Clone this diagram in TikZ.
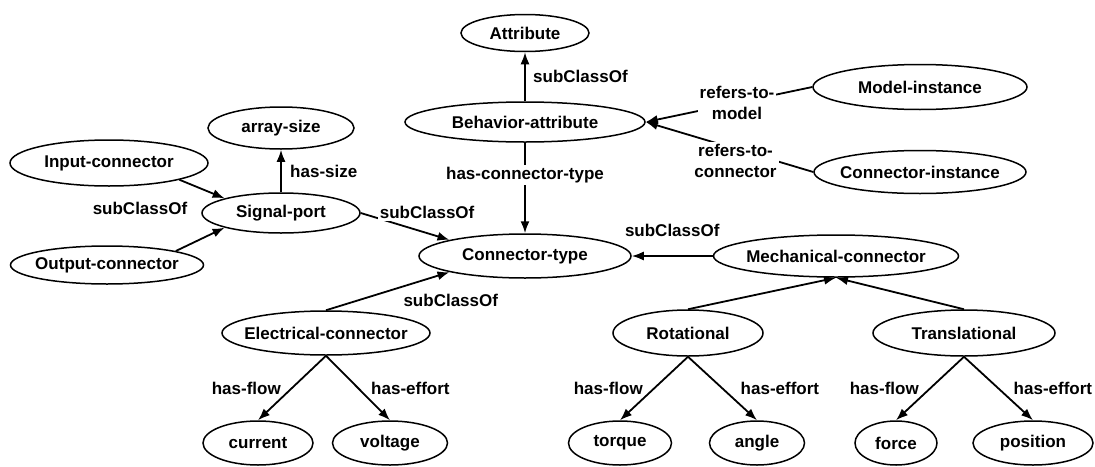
\documentclass[tikz,border=0pt]{standalone}
\usepackage{fontspec}
\setmainfont{Liberation Sans}
\usetikzlibrary{shapes.geometric, positioning, arrows.meta}

\begin{document}
\begin{tikzpicture}[x = 1pt, y = -1pt, on grid,
    >={Latex[length=12pt, width=9pt]},
    font = \fontsize{17pt}{21pt}\selectfont\bfseries,
    cnode/.style = {ellipse, draw, line width=1.5pt, minimum width=#1,
      minimum height=44pt, inner xsep=-10pt, inner ysep=0pt},
    lbl/.style = {fill=white, inner sep=2pt, align=center}]
  \useasboundingbox (0,0) rectangle (1095,466);
  \node[cnode=240pt, minimum height=40pt] (ba) at (525,122) {Behavior-attribute};
  \node[cnode=128pt, minimum height=37pt] [above=89pt of ba] (attr) {Attribute};
  \node[cnode=212pt] [below=134pt of ba] (ct) {Connector-type};
  \node[cnode=245pt, minimum height=42pt] [right=311pt of ct] (mech) {Mechanical-connector};
  \node[cnode=214pt, minimum height=45pt] [above right=35pt and 395pt of ba] (mi) {Model-instance};
  \node[cnode=212pt, minimum height=43pt] [below=85pt of mi] (ci) {Connector-instance};
  \node[cnode=158pt, minimum height=40pt] [above left=43pt and 244pt of ct] (sp) {Signal-port};
  \node[cnode=146pt, minimum height=42pt] [above=85pt of sp] (asz) {array-size};
  \node[cnode=198pt, minimum height=46pt] [above left=50pt and 172pt of sp] (inc) {Input-connector};
  \node[cnode=193pt, minimum height=38pt] [below left=52pt and 174pt of sp] (outc) {Output-connector};
  \node[] [above left=5pt and 141pt of sp] (scsig) {subClassOf};
  \node[cnode=208pt] [below left=77pt and 199pt of ct] (elec) {Electrical-connector};
  \node[cnode=150pt, minimum height=46pt] [below left=77pt and 148pt of mech] (rot) {Rotational};
  \node[cnode=182pt, minimum height=46pt] [below right=77pt and 128pt of mech] (trans) {Translational};
  \node[cnode=110pt] [below left=110pt and 68pt of elec] (cur) {current};
  \node[cnode=115pt] [below right=110pt and 64pt of elec] (volt) {voltage};
  \node[cnode=103pt] [below left=110pt and 68pt of rot] (torq) {torque};
  \node[cnode=95pt] [below right=110pt and 69pt of rot] (ang) {angle};
  \node[cnode=82pt] [below left=110pt and 68pt of trans] (frc) {force};
  \node[cnode=120pt] [below right=110pt and 69pt of trans] (pos) {position};
  \path[->, line width=1.8pt]
    (ba) edge node[right=4pt] {subClassOf} (attr)
         edge node[lbl, pos=0.36] {has-connector-type} (ct)
    (mi.west) edge node[lbl, xshift=8pt, yshift=2pt] {refers-to-\\model} (ba.east)
    (ci.west) edge node[lbl, xshift=6pt, yshift=-14pt] {refers-to-\\connector} (ba.east)
    (sp) edge node[right=5pt] {has-size} (asz)
    (sp.east) edge node[lbl, xshift=22pt, yshift=14pt] {subClassOf} (ct.north west)
    (inc.south east) edge (sp.north west)
    (outc.north east) edge (sp.south west)
    (mech) edge node[above=15pt] {subClassOf} (ct)
    (elec.north) edge node[xshift=63pt, yshift=-9pt] {subClassOf} (ct.south west)
    (rot.north) edge (mech.south)
    (trans.north) edge (mech.south)
    (elec.south) edge node[left=7pt] {has-flow} (cur.north)
                 edge node[right=9pt] {has-effort} (volt.north)
    (rot.south) edge node[left=7pt] {has-flow} (torq.north)
                edge node[right=14pt] {has-effort} (ang.north)
    (trans.south) edge node[left=7pt] {has-flow} (frc.north)
                  edge node[right=11pt] {has-effort} (pos.north);
\end{tikzpicture}
\end{document}
